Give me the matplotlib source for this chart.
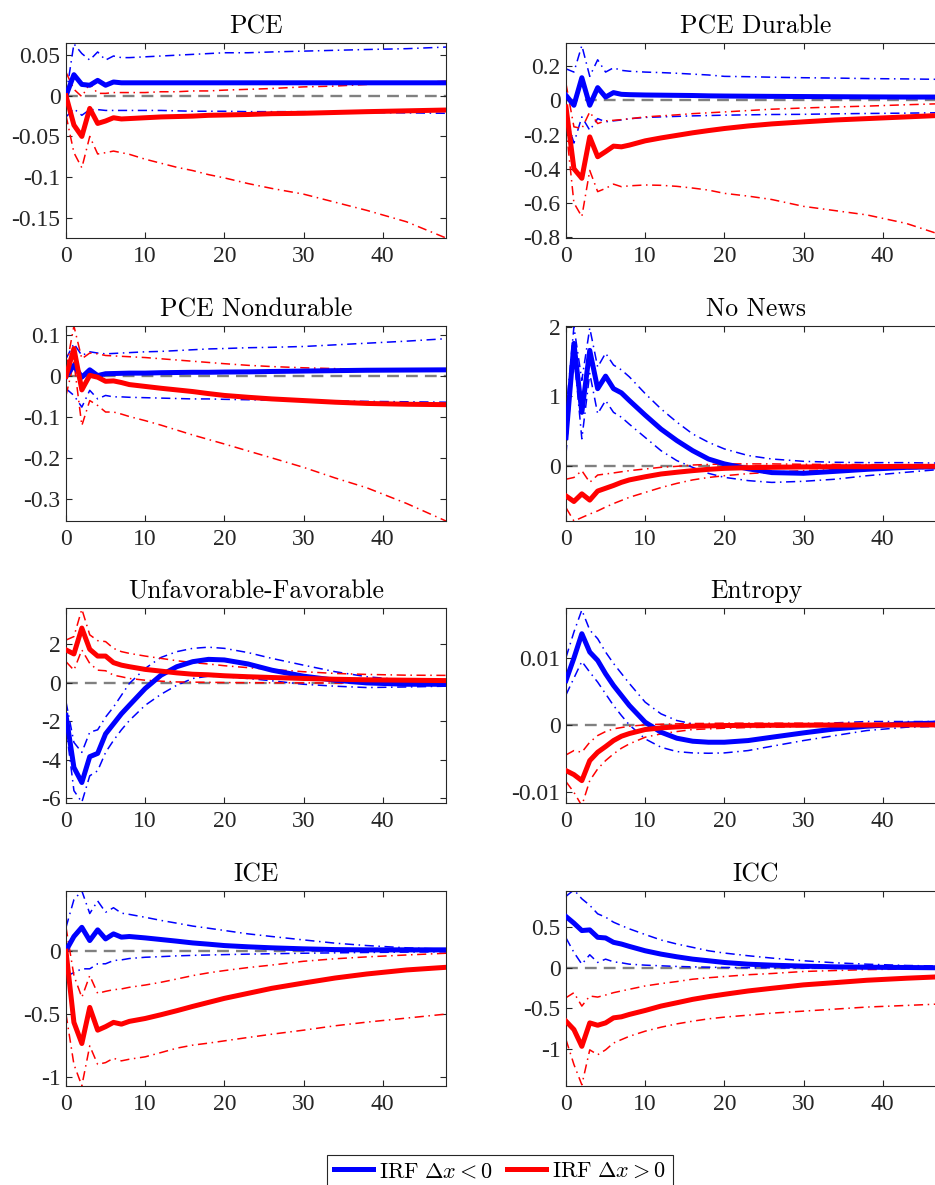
import numpy as np
import matplotlib
matplotlib.use("Agg")
import matplotlib.pyplot as plt
from matplotlib.lines import Line2D

plt.rcParams['mathtext.fontset'] = 'cm'
plt.rcParams['font.family'] = ['Liberation Serif', 'DejaVu Serif']

horizon = [0, 1, 2, 3, 4, 5, 6, 7, 8, 10, 12, 14, 16, 18, 20, 23, 26, 30, 34, 38, 43, 48]

# --- PCE ---
pce_neg = [0, .026, .014, .013, .019, .013, .017, .016, .016, .016, .016, .016, .016, .016, .016, .016, .016, .016, .016, .016, .016, .016]
pce_neg_hi = [0.0, .064, .052, .044, .054, .044, .049, .047, .047, .048, .049, .050, .051, .052, .053, .053, .054, .055, .056, .057, .058, .060]
pce_neg_lo = [-.026, -.016, -.024, -.017, -.017, -.018, -.018, -.018, -.018, -.018, -.018, -.0185, -.019, -.019, -.019, -.0195, -.0195, -.0195, -.020, -.0205, -.021, -.0215]
pce_pos = [0, -.036, -.050, -.0155, -.034, -.031, -.027, -.0285, -.028, -.027, -.026, -.0255, -.025, -.024, -.0236, -.023, -.022, -.0215, -.0205, -.0195, -.0185, -.0175]
pce_pos_hi = [.029, .008, -.001, .015, .003, .003, .004, .004, .004, .004, .005, .005, .006, .006, .007, .008, .009, .011, .012, .014, .016, .018]
pce_pos_lo = [-.024, -.070, -.0886, -.050, -.0716, -.070, -.068, -.070, -.072, -.078, -.083, -.088, -.092, -.097, -.101, -.108, -.114, -.121, -.131, -.141, -.155, -.175]

# --- PCE Durable ---
dur_neg = [.029, -.029, .132, -.029, .074, .019, .045, .035, .033, .031, .030, .029, .028, .026, .025, .024, .023, .022, .021, .020, .019, .019]
dur_neg_hi = [.184, .165, .32, .14, .237, .165, .19, .175, .170, .165, .162, .158, .153, .148, .140, .138, .135, .132, .130, .127, .125, .122]
dur_neg_lo = [-.10, -.25, -.097, -.175, -.107, -.126, -.12, -.115, -.108, -.10, -.097, -.094, -.091, -.089, -.087, -.085, -.083, -.082, -.079, -.077, -.075, -.072]
dur_pos = [-.039, -.40, -.456, -.214, -.33, -.30, -.268, -.272, -.262, -.237, -.220, -.205, -.190, -.177, -.165, -.150, -.138, -.126, -.115, -.107, -.097, -.087]
dur_pos_hi = [.097, -.155, -.165, -.068, -.136, -.12, -.117, -.113, -.108, -.097, -.091, -.085, -.078, -.073, -.068, -.060, -.052, -.045, -.039, -.034, -.026, -.019]
dur_pos_lo = [-.155, -.60, -.68, -.41, -.534, -.515, -.49, -.505, -.50, -.495, -.497, -.503, -.513, -.525, -.544, -.56, -.58, -.62, -.645, -.67, -.72, -.796]

# --- PCE Nondurable ---
nd_neg = [0, .027, -.002, .016, .002, .0065, .007, .0075, .008, .008, .009, .0095, .010, .010, .0106, .011, .012, .013, .014, .015, .0155, .016]
nd_neg_hi = [.043, .08, .051, .06, .057, .055, .056, .057, .058, .060, .061, .063, .065, .067, .068, .070, .071, .073, .077, .081, .086, .092]
nd_neg_lo = [-.03, -.0465, -.075, -.034, -.055, -.0465, -.05, -.05, -.051, -.052, -.053, -.054, -.055, -.055, -.056, -.057, -.058, -.059, -.060, -.061, -.062, -.063]
nd_pos = [0, .068, -.033, .0025, -.002, -.012, -.011, -.015, -.02, -.0245, -.029, -.033, -.037, -.042, -.0465, -.051, -.055, -.059, -.063, -.066, -.068, -.069]
nd_pos_hi = [.019, .123, .043, .057, .055, .051, .050, .049, .048, .046, .043, .040, .037, .034, .031, .027, .024, .021, .019, .017, .016, .015]
nd_pos_lo = [-.0465, .035, -.12, -.059, -.071, -.087, -.087, -.092, -.098, -.108, -.119, -.131, -.143, -.154, -.165, -.182, -.199, -.222, -.248, -.272, -.31, -.353]

# --- No News ---
nn_neg = [.41, 1.76, .77, 1.66, 1.11, 1.29, 1.11, 1.05, .94, .73, .53, .365, .22, .10, .03, -.04, -.095, -.105, -.077, -.048, -.02, -.01]
nn_neg_hi = [.75, 2.0, 1.23, 1.98, 1.42, 1.62, 1.45, 1.38, 1.28, 1.04, .82, .63, .46, .34, .245, .15, .10, .067, .053, .048, .048, .04]
nn_neg_lo = [.17, 1.62, .39, 1.33, .75, .94, .77, .70, .60, .41, .22, .077, -.02, -.106, -.163, -.21, -.236, -.22, -.19, -.14, -.09, -.043]
nn_pos = [-.43, -.51, -.40, -.49, -.36, -.32, -.28, -.235, -.20, -.155, -.115, -.09, -.067, -.048, -.034, -.024, -.019, -.014, -.01, -.01, -.005, -.005]
nn_pos_hi = [-.19, -.165, -.067, -.235, -.13, -.115, -.10, -.083, -.067, -.043, -.019, -.005, .014, .022, .03, .03, .03, .024, .022, .020, .017, .014]
nn_pos_lo = [-.60, -.79, -.74, -.69, -.645, -.59, -.54, -.495, -.45, -.38, -.31, -.25, -.20, -.165, -.14, -.11, -.09, -.067, -.055, -.047, -.038, -.029]

# --- Unfavorable-Favorable ---
uf_neg = [-1.7, -4.4, -5.18, -3.84, -3.67, -2.66, -2.14, -1.62, -1.18, -.31, .38, .82, 1.08, 1.2, 1.17, .96, .64, .33, .12, -.02, -.09, -.09]
uf_neg_hi = [-1.0, -3.1, -3.62, -2.57, -2.45, -1.79, -1.27, -.66, -.05, .73, 1.3, 1.6, 1.77, 1.83, 1.77, 1.55, 1.25, .9, .56, .3, .12, .03]
uf_neg_lo = [-2.3, -5.6, -6.2, -4.83, -4.57, -3.62, -3.0, -2.45, -1.97, -1.18, -.61, -.14, .21, .33, .30, .21, .09, -.09, -.19, -.26, -.23, -.19]
uf_pos = [1.69, 1.48, 2.82, 1.72, 1.37, 1.37, 1.03, .9, .82, .68, .59, .5, .43, .4, .35, .3, .26, .21, .17, .14, .12, .1]
uf_pos_hi = [2.2, 2.38, 3.8, 2.47, 2.17, 2.12, 1.77, 1.6, 1.51, 1.37, 1.25, 1.13, 1.03, .96, .87, .77, .68, .56, .47, .42, .38, .37]
uf_pos_lo = [1.08, .64, 1.69, .99, .64, .61, .38, .3, .21, .12, .07, .03, .02, .01, 0, -.01, -.015, -.02, -.025, -.03, -.03, -.02]

# --- Entropy ---
en_neg = [.00665, .0100, .01365, .0109, .00965, .00765, .0059, .0044, .0029, .0004, -.0011, -.0020, -.00245, -.0026, -.0026, -.00235, -.00185, -.0012, -.0006, -.0002, .00015, .0003]
en_neg_hi = [.0101, .0139, .0172, .0142, .0129, .0109, .0092, .0077, .0062, .0034, .00165, .00065, .00015, 0, -.0001, -.0002, -.0002, 0, .0003, .0005, .0005, .0005]
en_neg_lo = [.0045, .007, .0095, .0079, .0064, .00465, .0029, .0014, 0, -.0021, -.00335, -.004, -.0042, -.00425, -.0042, -.00385, -.0032, -.00235, -.0016, -.00085, -.00035, -.0002]
en_pos = [-.00685, -.00745, -.00835, -.00535, -.0041, -.00325, -.00235, -.0017, -.0013, -.0007, -.00045, -.0003, -.0002, -.00015, -.0001, -.00008, -.00006, -.00005, -.00003, -.00002, 0, 0]
en_pos_hi = [-.0045, -.00385, -.0041, -.0026, -.0016, -.001, -.0006, -.0004, -.0002, 0, .0001, .00015, .0002, .00022, .00025, .00025, .00025, .00025, .00023, .00022, .0002, .0002]
en_pos_lo = [-.0085, -.0101, -.0121, -.00835, -.0066, -.00535, -.00435, -.0035, -.00285, -.00185, -.00135, -.001, -.0007, -.0006, -.0005, -.0004, -.00035, -.00025, -.0002, -.00018, -.00016, -.00015]

# --- ICE ---
ice_neg = [.005, .117, .19, .085, .17, .098, .138, .112, .117, .106, .093, .08, .066, .056, .045, .035, .027, .019, .013, .011, .011, .011]
ice_neg_hi = [.19, .41, .48, .30, .40, .31, .346, .303, .293, .27, .245, .223, .20, .183, .165, .138, .117, .09, .064, .045, .027, .016]
ice_neg_lo = [-.2, -.17, -.14, -.14, -.10, -.10, -.074, -.069, -.058, -.048, -.043, -.037, -.033, -.030, -.027, -.023, -.02, -.016, -.013, -.010, -.007, -.005]
ice_pos = [0, -.566, -.734, -.447, -.628, -.60, -.566, -.58, -.558, -.535, -.505, -.473, -.439, -.407, -.375, -.335, -.295, -.253, -.213, -.181, -.149, -.128]
ice_pos_hi = [.19, -.194, -.367, -.194, -.335, -.319, -.306, -.30, -.287, -.269, -.247, -.221, -.194, -.172, -.154, -.13, -.11, -.08, -.06, -.045, -.03, -.016]
ice_pos_lo = [-.5, -.9, -1.07, -.753, -.9, -.886, -.851, -.872, -.859, -.84, -.806, -.771, -.747, -.731, -.713, -.686, -.66, -.628, -.593, -.564, -.532, -.5]

# --- ICC ---
icc_neg = [.632, .55, .459, .467, .376, .368, .314, .293, .264, .21, .169, .136, .107, .087, .066, .045, .033, .021, .012, .008, .004, 0]
icc_neg_hi = [.88, .96, .85, .77, .665, .624, .562, .52, .48, .41, .343, .293, .252, .21, .182, .149, .12, .087, .062, .045, .029, .021]
icc_neg_lo = [.368, .19, .045, .161, .066, .107, .074, .062, .045, .033, .025, .017, .012, .008, .004, .002, 0, -.004, -.006, -.008, -.008, -.004]
icc_pos = [-.657, -.76, -.967, -.678, -.707, -.678, -.616, -.603, -.574, -.525, -.471, -.43, -.388, -.355, -.326, -.285, -.252, -.21, -.182, -.153, -.128, -.107]
icc_pos_hi = [-.368, -.306, -.471, -.347, -.36, -.335, -.306, -.285, -.264, -.223, -.194, -.169, -.14, -.122, -.107, -.085, -.07, -.045, -.033, -.022, -.015, -.008]
icc_pos_lo = [-.884, -1.19, -1.44, -1.01, -1.07, -1.01, -.926, -.884, -.843, -.78, -.731, -.69, -.657, -.628, -.607, -.583, -.558, -.533, -.508, -.483, -.463, -.442]

titles = ['PCE', 'PCE Durable', 'PCE Nondurable', 'No News',
          'Unfavorable-Favorable', 'Entropy', 'ICE', 'ICC']
series = [
    (pce_neg, pce_neg_lo, pce_neg_hi, pce_pos, pce_pos_lo, pce_pos_hi),
    (dur_neg, dur_neg_lo, dur_neg_hi, dur_pos, dur_pos_lo, dur_pos_hi),
    (nd_neg, nd_neg_lo, nd_neg_hi, nd_pos, nd_pos_lo, nd_pos_hi),
    (nn_neg, nn_neg_lo, nn_neg_hi, nn_pos, nn_pos_lo, nn_pos_hi),
    (uf_neg, uf_neg_lo, uf_neg_hi, uf_pos, uf_pos_lo, uf_pos_hi),
    (en_neg, en_neg_lo, en_neg_hi, en_pos, en_pos_lo, en_pos_hi),
    (ice_neg, ice_neg_lo, ice_neg_hi, ice_pos, ice_pos_lo, ice_pos_hi),
    (icc_neg, icc_neg_lo, icc_neg_hi, icc_pos, icc_pos_lo, icc_pos_hi),
]
ylims = [(-0.175, 0.065), (-0.805, 0.335), (-0.353, 0.123), (-0.79, 2.01),
         (-6.24, 3.86), (-0.0117, 0.0175), (-1.072, 0.479), (-1.455, 0.946)]
yticks = [[-0.15, -0.1, -0.05, 0, 0.05], [-0.8, -0.6, -0.4, -0.2, 0, 0.2],
          [-0.3, -0.2, -0.1, 0, 0.1], [0, 1, 2], [-6, -4, -2, 0, 2],
          [-0.01, 0, 0.01], [-1, -0.5, 0], [-1, -0.5, 0, 0.5]]
xticks = [0, 10, 20, 30, 40]

W, H = 935, 1185
fig = plt.figure(figsize=(W / 100, H / 100), dpi=100)
axc = (0.15, 0.15, 0.15)
band_ls = (0, (6, 3, 1, 3))

col_x = [66, 566]
row_top = [43, 326, 608, 891]
ax_w, ax_h = 380, 195

for i, (title, s) in enumerate(zip(titles, series)):
    r, c = divmod(i, 2)
    left = col_x[c] / W
    bottom = 1 - (row_top[r] + ax_h) / H
    ax = fig.add_axes([left, bottom, ax_w / W, ax_h / H])
    neg, neg_lo, neg_hi, pos, pos_lo, pos_hi = s
    ax.axhline(0, color=(0.5, 0.5, 0.5), lw=1.7, ls=(0, (5, 3)), zorder=1)
    ax.plot(horizon, neg, color='blue', lw=3.6, zorder=3)
    ax.plot(horizon, neg_lo, color='blue', lw=1.1, ls=band_ls, zorder=2)
    ax.plot(horizon, neg_hi, color='blue', lw=1.1, ls=band_ls, zorder=2)
    ax.plot(horizon, pos, color='red', lw=3.6, zorder=3)
    ax.plot(horizon, pos_lo, color='red', lw=1.1, ls=band_ls, zorder=2)
    ax.plot(horizon, pos_hi, color='red', lw=1.1, ls=band_ls, zorder=2)
    ax.set_xlim(0, 48)
    ax.set_ylim(*ylims[i])
    ax.set_xticks(xticks)
    ax.set_xticklabels([f'{t:g}' for t in xticks])
    ax.set_yticks(yticks[i])
    ax.set_yticklabels([f'{t:g}' for t in yticks[i]])
    ax.tick_params(direction='in', top=True, right=True, length=4, width=0.8,
                   colors=axc, labelsize=17, pad=4)
    ax.tick_params(axis='x', pad=6)
    for sp in ax.spines.values():
        sp.set_color(axc)
        sp.set_linewidth(0.8)
    ax.set_title(title, fontfamily='cmr10', fontsize=18.5, pad=7)

handles = [Line2D([], [], color='blue', lw=3.6),
           Line2D([], [], color='red', lw=3.6)]
labels = [r'$\mathrm{IRF}\ \Delta x<0$', r'$\mathrm{IRF}\ \Delta x>0$']
leg = fig.legend(handles, labels, loc='upper center', ncol=2,
                 bbox_to_anchor=(500 / W, 1 - 1155 / H), fontsize=16,
                 frameon=True, fancybox=False, edgecolor=axc, framealpha=1,
                 handlelength=1.75, handletextpad=0.3, columnspacing=0.6,
                 borderpad=0.3, borderaxespad=0)
leg.get_frame().set_linewidth(0.8)

fig.savefig('out.png', dpi=100)
